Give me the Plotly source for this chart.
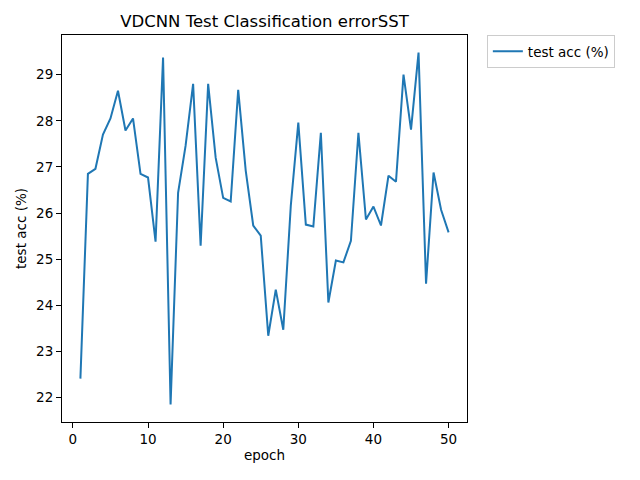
import plotly.graph_objs as go

# test accuracy per epoch
epochs = list(range(1, 51))
test_acc = [22.41, 26.85, 26.96, 27.70, 28.05, 28.65, 27.79, 28.05, 26.85, 26.77,
            25.38, 29.37, 21.85, 26.44, 27.46, 28.80, 25.29, 28.80, 27.20, 26.33,
            26.25, 28.67, 26.92, 25.73, 25.51, 23.34, 24.34, 23.47, 26.16, 27.96,
            25.75, 25.71, 27.74, 24.06, 24.97, 24.93, 25.40, 27.74, 25.86, 26.14,
            25.73, 26.81, 26.68, 29.00, 27.81, 29.48, 24.47, 26.88, 26.07, 25.58]

x_ticks = [0, 10, 20, 30, 40, 50]
y_ticks = [22, 23, 24, 25, 26, 27, 28, 29]

fig = go.Figure()
fig.add_trace(go.Scatter(x=epochs, y=test_acc, mode="lines", name="test acc (%)",
                         line=dict(color="#1f77b4", width=2)))

axis_style = dict(showline=True, linecolor="black", linewidth=1, mirror=True,
                  ticks="outside", ticklen=5, tickcolor="black",
                  showgrid=False, zeroline=False, automargin=False,
                  tickfont=dict(size=13.5, color="black"))

fig.update_layout(
    width=640, height=480,
    margin=dict(l=62, r=173, t=35, b=58),
    paper_bgcolor="white", plot_bgcolor="white",
    font=dict(family="DejaVu Sans", size=13.5, color="black"),
    title=dict(text="VDCNN Test Classification errorSST", x=0.5, xref="paper",
               xanchor="center", y=1 - 21 / 480, yanchor="middle",
               font=dict(size=16.5, color="black")),
    xaxis=dict(range=[-1.45, 52.45], tickvals=x_ticks,
               title=dict(text="epoch", standoff=4, font=dict(size=13.5)),
               **axis_style),
    yaxis=dict(range=[21.47, 29.86], tickvals=y_ticks,
               title=dict(text="test acc (%)", standoff=6, font=dict(size=13.5)),
               **axis_style),
    showlegend=True,
    legend=dict(x=1.049, y=1, xanchor="left", yanchor="top",
                bordercolor="#cccccc", borderwidth=1, bgcolor="white",
                itemwidth=30, tracegroupgap=0,
                font=dict(size=13.5, color="black")),
)

# the page body has a default 8px margin, drop it so the figure sits at 0,0
fig.write_html("out.html", config={"displayModeBar": False},
               post_script="document.body.style.margin='0';")
